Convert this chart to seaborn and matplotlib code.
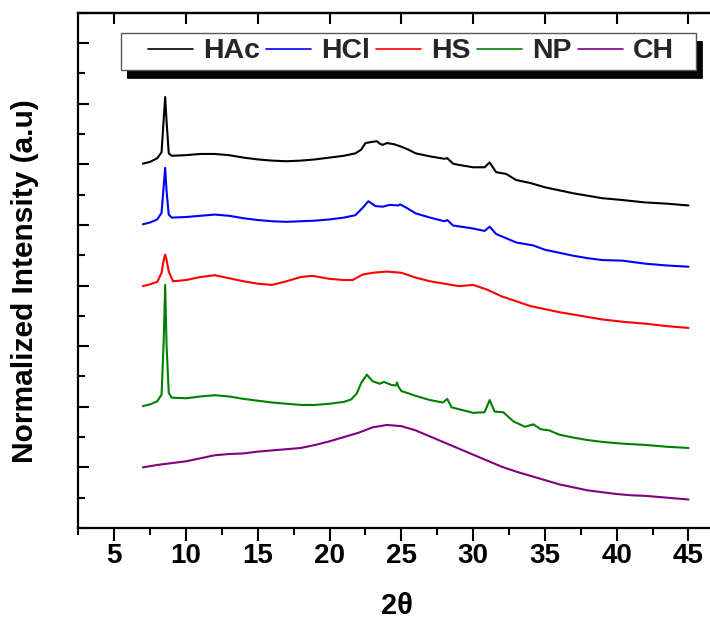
import matplotlib
matplotlib.use("Agg")
import matplotlib.pyplot as plt
import matplotlib.patches as mpatches
import matplotlib.patheffects as pe
import pandas as pd
import seaborn as sns
from matplotlib.ticker import MultipleLocator

# ---------------- data ----------------
samples = ["HAc", "HCl", "HS", "NP", "CH"]
colors = ["#000000", "#0000FF", "#FF0000", "#008000", "#800080"]

hac_x = [7.0, 7.5, 8.0, 8.3, 8.45, 8.55, 8.65, 8.8, 9.0, 10, 11, 12, 13, 14, 15, 16, 17, 18, 19, 20, 21,
         21.8, 22.2, 22.5, 23.0, 23.3, 23.5, 23.7, 24.0, 24.5, 25.0, 25.5, 26,
         27, 28, 28.2, 28.6, 29, 30, 30.8, 31.15, 31.6, 32.3, 33, 34, 35, 36, 37, 38, 39, 40.4, 42, 43.5, 45]
hac_y = [5.01, 5.04, 5.10, 5.20, 5.75, 6.11, 5.70, 5.18, 5.14,
         5.15, 5.17, 5.17, 5.15, 5.11, 5.08, 5.06, 5.05, 5.06, 5.08, 5.11, 5.14,
         5.18, 5.24, 5.35, 5.37, 5.38, 5.34, 5.32, 5.35, 5.33, 5.29, 5.24, 5.18,
         5.13, 5.09, 5.10, 5.01, 4.99, 4.95, 4.95, 5.03, 4.87, 4.84, 4.74, 4.69, 4.62, 4.57, 4.52, 4.48,
         4.44, 4.41, 4.37, 4.35, 4.32]

hcl_x = [7.0, 7.5, 8.0, 8.3, 8.45, 8.55, 8.65, 8.8, 9.0, 10, 11, 12, 13, 14, 15, 16, 17, 18, 19, 20, 21,
         21.8, 22.3, 22.7, 23.2, 23.7, 24.2, 24.8, 24.9, 25.3, 26,
         27, 28, 28.2, 28.6, 30, 30.8, 31.15, 31.6, 32.3, 33, 34.2, 35, 36, 37, 38, 39, 40.4, 42, 43.5, 45]
hcl_y = [4.01, 4.04, 4.09, 4.20, 4.65, 4.94, 4.55, 4.17, 4.12,
         4.13, 4.15, 4.17, 4.15, 4.11, 4.08, 4.06, 4.05, 4.06, 4.07, 4.09, 4.12,
         4.16, 4.28, 4.39, 4.31, 4.30, 4.33, 4.32, 4.34, 4.29, 4.19,
         4.12, 4.06, 4.08, 3.99, 3.94, 3.90, 3.97, 3.85, 3.78, 3.71, 3.66, 3.59, 3.54, 3.49, 3.45, 3.42,
         3.41, 3.36, 3.33, 3.31]

hs_x = [7.0, 7.5, 8.0, 8.3, 8.45, 8.55, 8.65, 8.8, 9.1, 10, 11, 12, 13, 14, 15, 16, 17, 18, 18.8,
        20, 21, 21.6, 22.3, 23, 24, 25, 26, 27, 28, 29, 30, 31, 32, 33, 34, 35, 36, 37, 38, 39,
        40.5, 42, 43.5, 45]
hs_y = [2.99, 3.02, 3.06, 3.21, 3.42, 3.51, 3.42, 3.23, 3.07,
        3.09, 3.14, 3.17, 3.12, 3.07, 3.03, 3.01, 3.07, 3.14, 3.16,
        3.11, 3.09, 3.09, 3.18, 3.21,
        3.23, 3.21, 3.13, 3.07, 3.03, 2.99, 3.01, 2.93, 2.82, 2.74, 2.66, 2.61, 2.56, 2.52, 2.48, 2.44,
        2.40, 2.37, 2.33, 2.30]

np_x = [7.0, 7.5, 8.0, 8.3, 8.45, 8.55, 8.65, 8.8, 9.0, 10, 11, 12, 13, 14, 15, 16, 17, 18, 19, 20, 21,
        21.5, 21.9, 22.2, 22.6, 23.0, 23.5, 23.8, 24.3, 24.6, 24.7, 24.8, 25,
        26, 27, 27.9, 28.2, 28.5, 29, 30, 30.8, 31.15, 31.5, 32.1, 32.8, 33.6, 34.2, 34.7, 35.3, 36, 37,
        38, 39, 40.5, 42, 43.5, 45]
np_y = [1.01, 1.04, 1.09, 1.20, 2.10, 3.01, 2.00, 1.23, 1.15,
        1.14, 1.17, 1.19, 1.17, 1.13, 1.10, 1.07, 1.05, 1.03, 1.03, 1.05, 1.08,
        1.12, 1.22, 1.39, 1.53, 1.42, 1.38, 1.41, 1.36, 1.35, 1.40, 1.33, 1.26,
        1.18, 1.11, 1.07, 1.13, 0.99, 0.96, 0.90, 0.91, 1.11, 0.92, 0.91, 0.76, 0.67, 0.71, 0.63, 0.61,
        0.54, 0.49, 0.45, 0.42, 0.39, 0.37, 0.34, 0.32]

ch_x = [7, 8, 9, 10, 11, 12, 13, 14, 15, 16, 17, 18, 19, 20, 21, 22, 23, 24, 25, 26, 27, 28, 29, 30,
        31, 32, 33, 34, 35, 36, 37, 38, 39, 40, 41, 42, 43, 44, 45]
ch_y = [0.00, 0.04, 0.07, 0.10, 0.15, 0.20, 0.22, 0.23, 0.26, 0.28, 0.30, 0.32, 0.37, 0.43, 0.50,
        0.57, 0.66, 0.70, 0.68, 0.61, 0.51, 0.41, 0.31, 0.21, 0.11, 0.01, -0.07, -0.14, -0.21, -0.28,
        -0.33, -0.38, -0.41, -0.44, -0.46, -0.47, -0.49, -0.51, -0.53]

series = {"HAc": (hac_x, hac_y), "HCl": (hcl_x, hcl_y), "HS": (hs_x, hs_y),
          "NP": (np_x, np_y), "CH": (ch_x, ch_y)}

df = pd.concat([pd.DataFrame({"two_theta": xs, "intensity": ys, "sample": name})
                for name, (xs, ys) in series.items()], ignore_index=True)

# ---------------- figure ----------------
sns.set_theme(style="white")
plt.rcParams["font.family"] = ["Liberation Sans", "DejaVu Sans"]
plt.rcParams["font.weight"] = "bold"

W, H = 710, 620
fig = plt.figure(figsize=(W / 100, H / 100), dpi=100)
left, right, top, bottom = 78.3, 710.0, 12.7, 528.0
aw, ah = right - left, bottom - top
ax = fig.add_axes([left / W, (H - bottom) / H, aw / W, ah / H])


def ax_x(px):
    return (px - left) / aw


def ax_y(py):
    return (bottom - py) / ah


def fx(px):
    return px / W


def fy(py):
    return (H - py) / H


sns.lineplot(data=df, x="two_theta", y="intensity", hue="sample", hue_order=samples,
             palette=colors, sort=False, estimator=None, linewidth=1.5, ax=ax)

ax.set_xlim(2.5, 46.5)
ax.set_ylim(-1.0, 7.5)

for side in ["left", "bottom", "top"]:
    ax.spines[side].set_color("black")
    ax.spines[side].set_linewidth(1.6)
ax.spines["right"].set_visible(False)

ax.xaxis.set_major_locator(MultipleLocator(5))
ax.xaxis.set_minor_locator(MultipleLocator(2.5))
ax.yaxis.set_major_locator(MultipleLocator(1))
ax.yaxis.set_minor_locator(MultipleLocator(0.5))

ax.tick_params(axis="x", which="major", direction="out", length=9, width=1.5, color="black",
               bottom=True, top=False, labelsize=20, pad=2, labelcolor="black")
ax.tick_params(axis="x", which="minor", direction="out", length=5, width=1.5, color="black",
               bottom=True, top=False)
ax.tick_params(axis="y", which="major", direction="in", length=8, width=1.5, color="black",
               left=True, right=False, labelleft=False)
ax.tick_params(axis="y", which="minor", direction="in", length=5, width=1.5, color="black",
               left=True, right=False)
for lab in ax.get_xticklabels():
    lab.set_fontweight("bold")

sec = ax.secondary_xaxis("top")
sec.xaxis.set_major_locator(MultipleLocator(5))
sec.tick_params(axis="x", which="major", direction="in", length=8, width=1.5, color="black",
                labeltop=False)
sec.tick_params(axis="x", which="minor", top=False)
sec.spines["top"].set_linewidth(1.6)
sec.spines["top"].set_color("black")

ax.set_xlabel("2θ", fontsize=21, fontweight="bold", color="black")
ax.xaxis.set_label_coords(ax_x(397), ax_y(592))
ax.set_ylabel("Normalized Intensity (a.u)", fontsize=21.5, fontweight="bold", color="black")
ax.yaxis.set_label_coords(ax_x(39), ax_y(281.5))

handles, labels = ax.get_legend_handles_labels()
if ax.get_legend() is not None:
    ax.get_legend().remove()

# legend box with a solid black drop shadow (offset 6 px right, 8 px down)
bx0, bx1, by0, by1 = 121, 696, 33, 70
sx, sy = 6, 8
shadow = mpatches.Rectangle((fx(bx0 + sx), fy(by1 + sy)), (bx1 - bx0) / W, (by1 - by0) / H,
                            transform=fig.transFigure, facecolor=(0, 0, 0, 1),
                            edgecolor=(0, 0, 0, 1), linewidth=0.5, zorder=20, alpha=1)
fig.patches.append(shadow)
shadow.set_figure(fig)
frame = mpatches.Rectangle((fx(bx0), fy(by1)), (bx1 - bx0) / W, (by1 - by0) / H,
                           transform=fig.transFigure, facecolor="white", edgecolor="0.35",
                           linewidth=1.0, zorder=21)
frame.set_path_effects([pe.SimplePatchShadow(offset=(sx * 0.72, -sy * 0.72),
                                             shadow_rgbFace=(0, 0, 0), alpha=1.0, rho=0.0),
                        pe.Normal()])
fig.patches.append(frame)
frame.set_figure(fig)

leg = fig.legend(handles, labels, ncol=5, loc="center left",
                 bbox_to_anchor=(fx(148), fy((by0 + by1) / 2)), bbox_transform=fig.transFigure,
                 borderaxespad=0, borderpad=0, frameon=False,
                 prop={"weight": "bold", "size": 20.5}, handlelength=1.58, handletextpad=0.35,
                 columnspacing=0.22)
leg.set_zorder(25)
for h in leg.get_lines():
    h.set_linewidth(1.2)

fig.savefig("out.png", dpi=100)
